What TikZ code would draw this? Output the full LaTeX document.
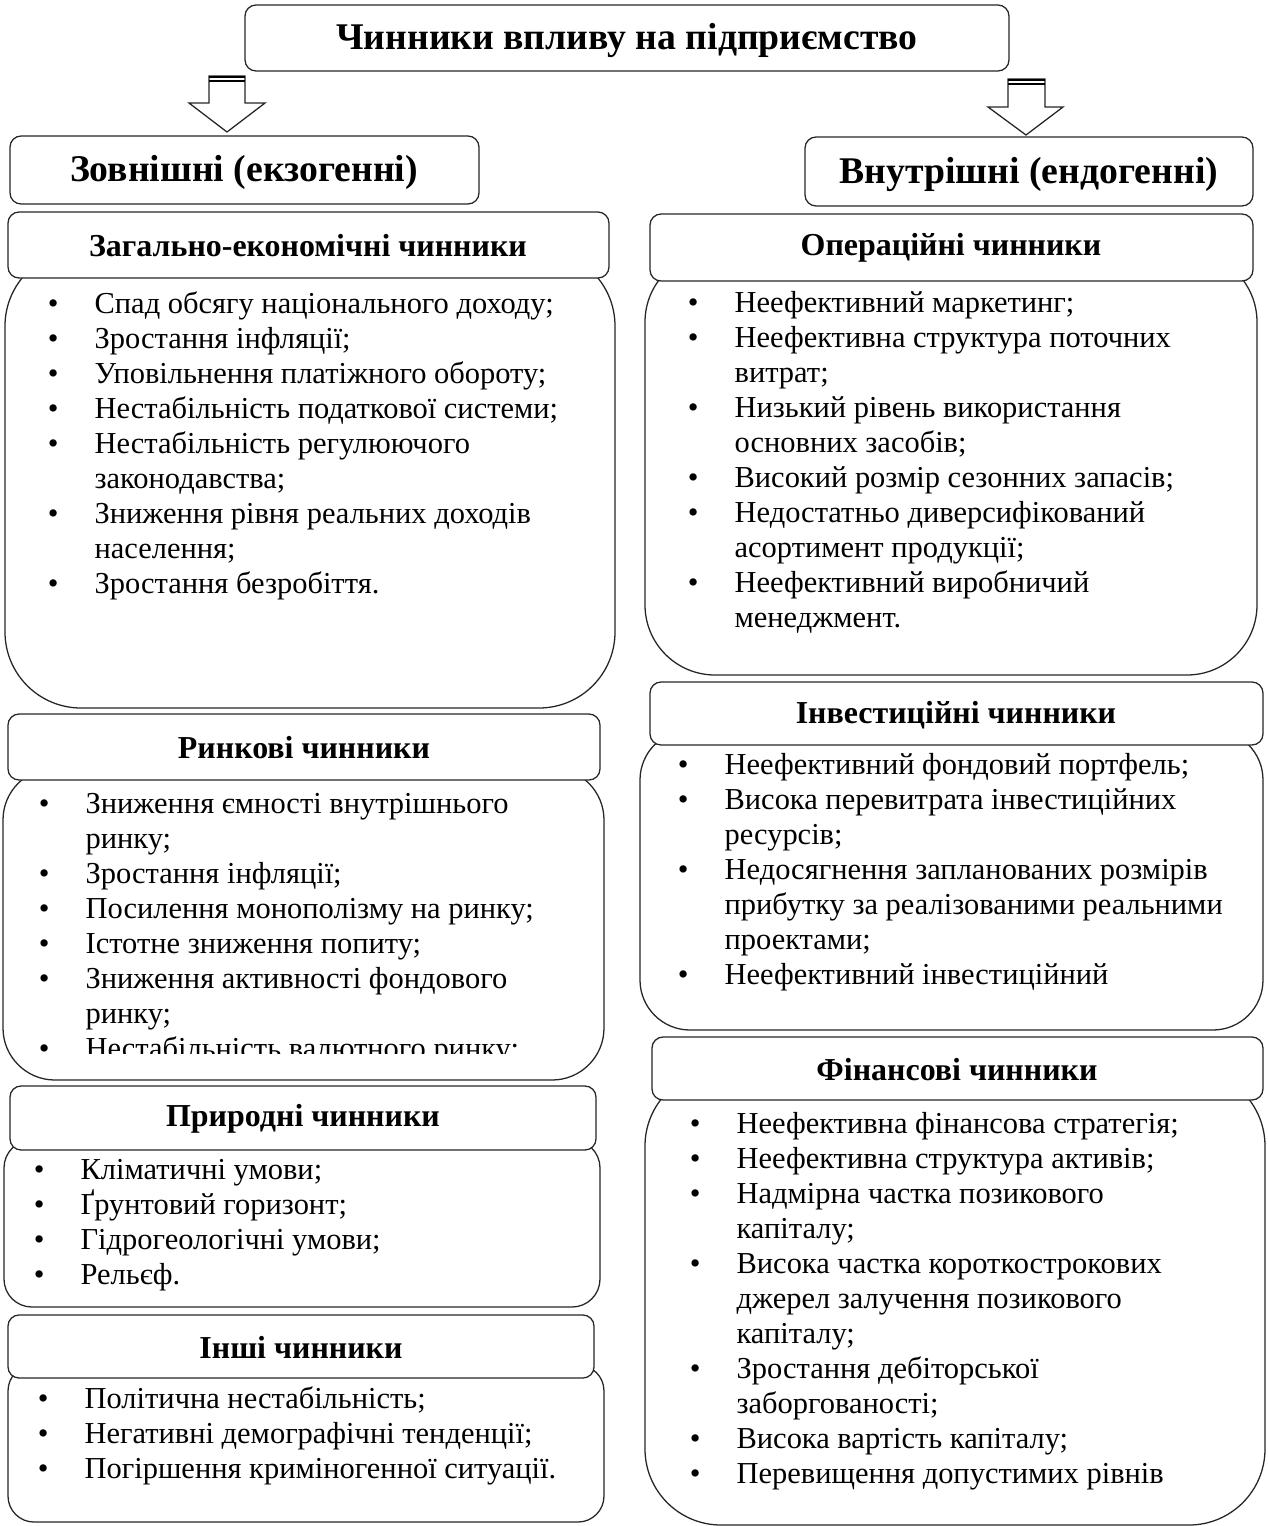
\documentclass[tikz,border=0pt]{standalone}
\usepackage{fontspec}
\setmainfont{Liberation Serif}
\newcommand{\bl}{\llap{\makebox[22pt][l]{•}}}
\begin{document}
\begin{tikzpicture}[x=0.4695pt,y=-0.4695pt,line width=0.6pt,
  box/.style={draw=black!85,fill=white,rounded corners=#1},
  hdr/.style={draw=black!85,fill=white,rounded corners=5.2pt},
  ttl/.style={font=\fontsize{17.7}{20}\selectfont\bfseries,inner sep=0},
  htx/.style={font=\fontsize{15}{17}\selectfont\bfseries,inner sep=0},
  lst/.style={anchor=base west,inner sep=0,font=\fontsize{14.3}{16.45}\selectfont},
  barrow/.style={draw=black!85,fill=white,line width=0.6pt}]
\useasboundingbox (0,0) rectangle (1268,1526);

% title
\draw[hdr] (245,5) rectangle (1009,71);
\node[ttl] (title) at (627,40) {Чинники впливу на підприємство};

% block arrows
\draw[barrow] (209,76) -- (245,76) -- (245,103) -- (265,103) -- (227,132) -- (189,103) -- (209,103) -- cycle;
\draw[line width=1.1pt] (209,77) -- (245,77);
\draw[line width=0.8pt] (209,81) -- (245,81);
\draw[barrow] (1008,79) -- (1045,79) -- (1045,107) -- (1063,107) -- (1026,135) -- (988,107) -- (1008,107) -- cycle;
\draw[line width=1.1pt] (1008,80) -- (1045,80);
\draw[line width=0.8pt] (1008,84) -- (1045,84);

% second level
\draw[hdr] (10,136) rectangle (479,204);
\node[ttl] (ext) at (244,172) {Зовнішні (екзогенні)};
\draw[hdr] (805,137) rectangle (1253,206);
\node[ttl] (int) at (1029,174) {Внутрішні (ендогенні)};

% ---------- left column ----------
\draw[box=35.7pt] (5,250) rectangle (615,708);
\draw[hdr] (8,212) rectangle (609,278);
\node[htx] (h1) at (308,246) {Загально-економічні чинники};
\node[lst] (t1) at (94,313) {\begin{tabular}[t]{@{}l@{}}
\bl Спад обсягу національного доходу;\\
\bl Зростання інфляції;\\
\bl Уповільнення платіжного обороту;\\
\bl Нестабільність податкової системи;\\
\bl Нестабільність регулюючого\\
законодавства;\\
\bl Зниження рівня реальних доходів\\
населення;\\
\bl Зростання безробіття.
\end{tabular}};

\draw[box=24.4pt] (3,768) rectangle (604,1080);
\draw[hdr] (8,714) rectangle (600,780);
\node[htx] (h2) at (304,748) {Ринкові чинники};
\begin{scope}
\clip (0,780) rectangle (1268,1053);
\node[lst] (t2) at (85,813) {\begin{tabular}[t]{@{}l@{}}
\bl Зниження ємності внутрішнього\\
ринку;\\
\bl Зростання інфляції;\\
\bl Посилення монополізму на ринку;\\
\bl Істотне зниження попиту;\\
\bl Зниження активності фондового\\
ринку;\\
\bl Нестабільність валютного ринку;
\end{tabular}};
\end{scope}

\draw[box=13.1pt] (4,1140) rectangle (600,1307);
\draw[hdr] (10,1086) rectangle (596,1150);
\node[htx] (h3) at (303,1119) {Природні чинники};
\node[lst] (t3) at (80,1179) {\begin{tabular}[t]{@{}l@{}}
\bl Кліматичні умови;\\
\bl Ґрунтовий горизонт;\\
\bl Гідрогеологічні умови;\\
\bl Рельєф.
\end{tabular}};

\draw[box=12.2pt] (8,1365) rectangle (604,1522);
\draw[hdr] (8,1315) rectangle (594,1378);
\node[htx] (h4) at (301,1347) {Інші чинники};
\node[lst] (t4) at (84,1408) {\begin{tabular}[t]{@{}l@{}}
\bl Політична нестабільність;\\
\bl Негативні демографічні тенденції;\\
\bl Погіршення криміногенної ситуації.
\end{tabular}};

% ---------- right column ----------
\draw[box=32.9pt] (645,252) rectangle (1257,675);
\draw[hdr] (650,214) rectangle (1253,281);
\node[htx] (h5) at (951,248) {Операційні чинники};
\node[lst] (t5) at (734,312) {\begin{tabular}[t]{@{}l@{}}
\bl Неефективний маркетинг;\\
\bl Неефективна структура поточних\\
витрат;\\
\bl Низький рівень використання\\
основних засобів;\\
\bl Високий розмір сезонних запасів;\\
\bl Недостатньо диверсифікований\\
асортимент продукції;\\
\bl Неефективний виробничий\\
менеджмент.
\end{tabular}};

\draw[box=23.5pt] (640,730) rectangle (1263,1030);
\draw[hdr] (650,682) rectangle (1263,745);
\node[htx] (h6) at (956,715) {Інвестиційні чинники};
\node[lst] (t6) at (724,774) {\begin{tabular}[t]{@{}l@{}}
\bl Неефективний фондовий портфель;\\
\bl Висока перевитрата інвестиційних\\
ресурсів;\\
\bl Недосягнення запланованих розмірів\\
прибутку за реалізованими реальними\\
проектами;\\
\bl Неефективний інвестиційний
\end{tabular}};

\draw[box=35.7pt] (645,1070) rectangle (1265,1525);
\draw[hdr] (652,1037) rectangle (1263,1100);
\node[htx] (h7) at (957,1070) {Фінансові чинники};
\node[lst] (t7) at (736,1133) {\begin{tabular}[t]{@{}l@{}}
\bl Неефективна фінансова стратегія;\\
\bl Неефективна структура активів;\\
\bl Надмірна частка позикового\\
капіталу;\\
\bl Висока частка короткострокових\\
джерел залучення позикового\\
капіталу;\\
\bl Зростання дебіторської\\
заборгованості;\\
\bl Висока вартість капіталу;\\
\bl Перевищення допустимих рівнів
\end{tabular}};
\end{tikzpicture}
\end{document}
